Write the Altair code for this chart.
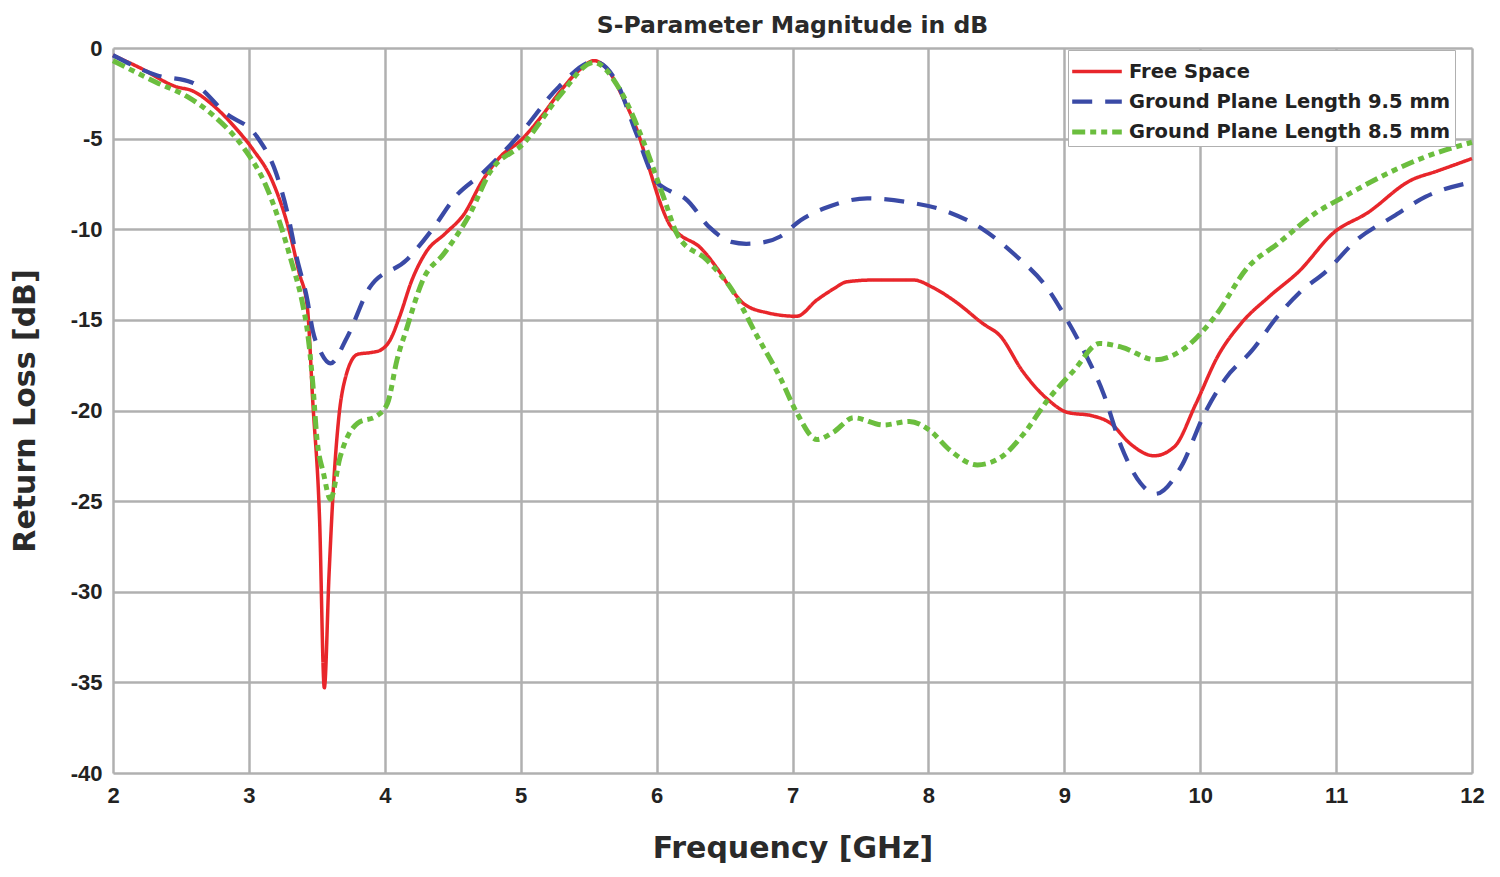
import altair as alt
import pandas as pd

series_names = ["Free Space", "Ground Plane Length 9.5 mm", "Ground Plane Length 8.5 mm"]
series_colors = ["#E8262B", "#3A4AA6", "#6BBE3E"]

fs_freq = [2.0, 2.2, 2.47, 2.58, 2.75, 2.9, 3.03, 3.17, 3.29, 3.37, 3.43, 3.47, 3.52, 3.555, 3.59, 3.62,
           3.66, 3.71, 3.8, 3.9, 3.96, 4.04, 4.11, 4.2, 4.3, 4.45, 4.58, 4.72, 4.85, 5.0, 5.15, 5.28,
           5.42, 5.54, 5.65, 5.75, 5.85, 5.94, 6.02, 6.1, 6.17, 6.32, 6.44, 6.54, 6.64, 6.81, 7.03,
           7.18, 7.3, 7.4, 7.6, 7.89, 8.03, 8.2, 8.4, 8.53, 8.69, 8.88, 9.02, 9.21, 9.34, 9.48, 9.66,
           9.81, 9.97, 10.13, 10.3, 10.51, 10.73, 10.98, 11.23, 11.55, 11.74, 12.0]
fs_db = [-0.4, -1.1, -2.15, -2.35, -3.25, -4.4, -5.6, -7.3, -9.9, -12.4, -14.3, -19.5, -26.0, -35.3,
         -29.0, -24.5, -20.5, -18.2, -16.9, -16.8, -16.7, -16.1, -14.8, -12.8, -11.3, -10.2, -9.2,
         -7.3, -6.0, -5.1, -3.8, -2.5, -1.3, -0.7, -1.3, -2.7, -4.4, -6.5, -8.4, -9.8, -10.3, -11.0,
         -12.1, -13.2, -14.1, -14.6, -14.8, -13.9, -13.3, -12.9, -12.8, -12.8, -13.2, -14.0, -15.2,
         -15.9, -17.8, -19.4, -20.1, -20.3, -20.7, -21.8, -22.5, -22.0, -19.6, -17.0, -15.2, -13.7,
         -12.3, -10.2, -9.1, -7.3, -6.8, -6.1]

gp95_freq = [2.0, 2.32, 2.58, 2.83, 3.06, 3.2, 3.29, 3.35, 3.43, 3.47, 3.53, 3.6, 3.72, 3.89, 4.16,
             4.36, 4.52, 4.72, 5.0, 5.28, 5.54, 5.7, 5.85, 5.99, 6.1, 6.21, 6.39, 6.55, 6.66, 6.8,
             6.91, 7.06, 7.25, 7.55, 7.84, 8.13, 8.4, 8.65, 8.87, 9.02, 9.15, 9.29, 9.42, 9.56, 9.67,
             9.86, 10.03, 10.19, 10.38, 10.57, 10.73, 10.93, 11.15, 11.42, 11.66, 12.0]
gp95_db = [-0.4, -1.5, -1.9, -3.6, -4.9, -6.9, -9.3, -11.5, -13.9, -15.6, -16.8, -17.4, -16.0, -13.2,
           -11.7, -9.9, -8.2, -6.9, -4.7, -2.15, -0.75, -1.8, -4.7, -7.3, -7.9, -8.3, -9.9, -10.7,
           -10.8, -10.7, -10.4, -9.5, -8.8, -8.3, -8.5, -9.0, -10.0, -11.5, -13.2, -15.0, -16.8,
           -19.1, -22.0, -24.0, -24.6, -23.1, -20.2, -18.2, -16.7, -14.8, -13.5, -12.3, -10.6, -9.3,
           -8.2, -7.4]

gp85_freq = [2.0, 2.32, 2.55, 2.75, 2.97, 3.12, 3.23, 3.31, 3.4, 3.43, 3.47, 3.5, 3.55, 3.6, 3.67,
             3.8, 3.94, 4.02, 4.09, 4.16, 4.28, 4.44, 4.63, 4.77, 5.03, 5.28, 5.54, 5.73, 5.9, 6.05,
             6.16, 6.37, 6.56, 6.74, 6.91, 7.03, 7.18, 7.3, 7.45, 7.67, 7.86, 8.01, 8.16, 8.36, 8.53,
             8.7, 8.88, 9.07, 9.26, 9.42, 9.67, 9.86, 10.11, 10.35, 10.57, 10.85, 11.06, 11.33,
             11.66, 12.0]
gp85_db = [-0.7, -1.9, -2.7, -3.8, -5.6, -7.5, -9.7, -11.7, -14.3, -15.6, -18.5, -21.5, -23.5, -24.9,
           -22.6, -20.7, -20.3, -19.6, -17.2, -15.5, -12.8, -11.3, -9.1, -6.9, -5.2, -2.7, -0.8,
           -2.3, -5.1, -8.2, -10.4, -11.7, -13.4, -15.9, -18.2, -20.1, -21.6, -21.2, -20.4, -20.8,
           -20.6, -21.1, -22.2, -23.0, -22.6, -21.3, -19.4, -17.8, -16.3, -16.5, -17.2, -16.7,
           -14.8, -12.1, -10.8, -9.1, -8.2, -7.1, -6.0, -5.2]

x_ticks = [2, 3, 4, 5, 6, 7, 8, 9, 10, 11, 12]
y_ticks = [0, -5, -10, -15, -20, -25, -30, -35, -40]

rows = []
for name, fr, db in [(series_names[0], fs_freq, fs_db),
                     (series_names[1], gp95_freq, gp95_db),
                     (series_names[2], gp85_freq, gp85_db)]:
    for i, (f, d) in enumerate(zip(fr, db)):
        rows.append({"series": name, "freq": f, "db": d, "order": i})
df = pd.DataFrame(rows)

LBL = "Liberation Sans"
TTL = "DejaVu Sans"
GRID = "#b0b0b0"

chart = alt.Chart(df).mark_line(interpolate="monotone").encode(
    x=alt.X("freq:Q",
            scale=alt.Scale(domain=[2, 12], nice=False, zero=False),
            axis=alt.Axis(values=x_ticks, title="Frequency [GHz]",
                          labelExpr="'' + datum.value", labelFlush=False,
                          labelFontSize=22, labelFont=LBL, labelFontWeight="bold",
                          labelColor="#222222", labelPadding=12, tickSize=0, domain=False,
                          titleFontSize=30, titleFont=TTL, titleFontWeight="bold",
                          titleColor="#2a2a2a", titleX=679.5, titleY=75,
                          titleAlign="center", titleBaseline="middle",
                          grid=True, gridColor=GRID, gridWidth=2.5)),
    y=alt.Y("db:Q",
            scale=alt.Scale(domain=[-40, 0], nice=False, zero=False),
            axis=alt.Axis(values=y_ticks, title="Return Loss [dB]",
                          labelExpr="'' + datum.value", labelFlush=False,
                          labelFontSize=22, labelFont=LBL, labelFontWeight="bold",
                          labelColor="#222222", labelPadding=11, tickSize=0, domain=False,
                          titleFontSize=30, titleFont=TTL, titleFontWeight="bold",
                          titleColor="#2a2a2a", titleX=-88, titleY=362.5, titleAngle=-90,
                          titleAlign="center", titleBaseline="middle",
                          grid=True, gridColor=GRID, gridWidth=2.5)),
    color=alt.Color("series:N",
                    scale=alt.Scale(domain=series_names, range=series_colors),
                    legend=alt.Legend(title=None, orient="none", legendX=955, legendY=2,
                                      labelFontSize=19.5, labelFont=TTL, labelFontWeight="bold",
                                      labelColor="#222222", symbolType="M-1.6,0H1.6",
                                      symbolSize=961, symbolStrokeWidth=4,
                                      symbolOffset=7, symbolFillColor="transparent",
                                      strokeColor=GRID, fillColor="white",
                                      padding=4, rowPadding=2.5, labelOffset=14,
                                      labelLimit=400)),
    strokeDash=alt.StrokeDash("series:N",
                              scale=alt.Scale(domain=series_names,
                                              range=[[1, 0], [20, 13], [13, 5, 6, 5, 6, 5]]),
                              legend=None),
    strokeWidth=alt.StrokeWidth("series:N",
                                scale=alt.Scale(domain=series_names, range=[3.5, 5, 5.5]),
                                legend=None),
    order="order:Q",
).properties(
    width=1359,
    height=725,
    title=alt.TitleParams("S-Parameter Magnitude in dB", fontSize=23.5, font=TTL,
                          fontWeight="bold", color="#2a2a2a", anchor="middle", offset=0),
    autosize=alt.AutoSizeParams(type="none"),
    padding={"left": 105, "top": 40, "right": 20, "bottom": 90},
).configure_view(
    stroke="#a0a0a0", strokeWidth=3
).configure(background="white")

chart.save("out.html", embed_options={"renderer": "svg", "actions": False})
